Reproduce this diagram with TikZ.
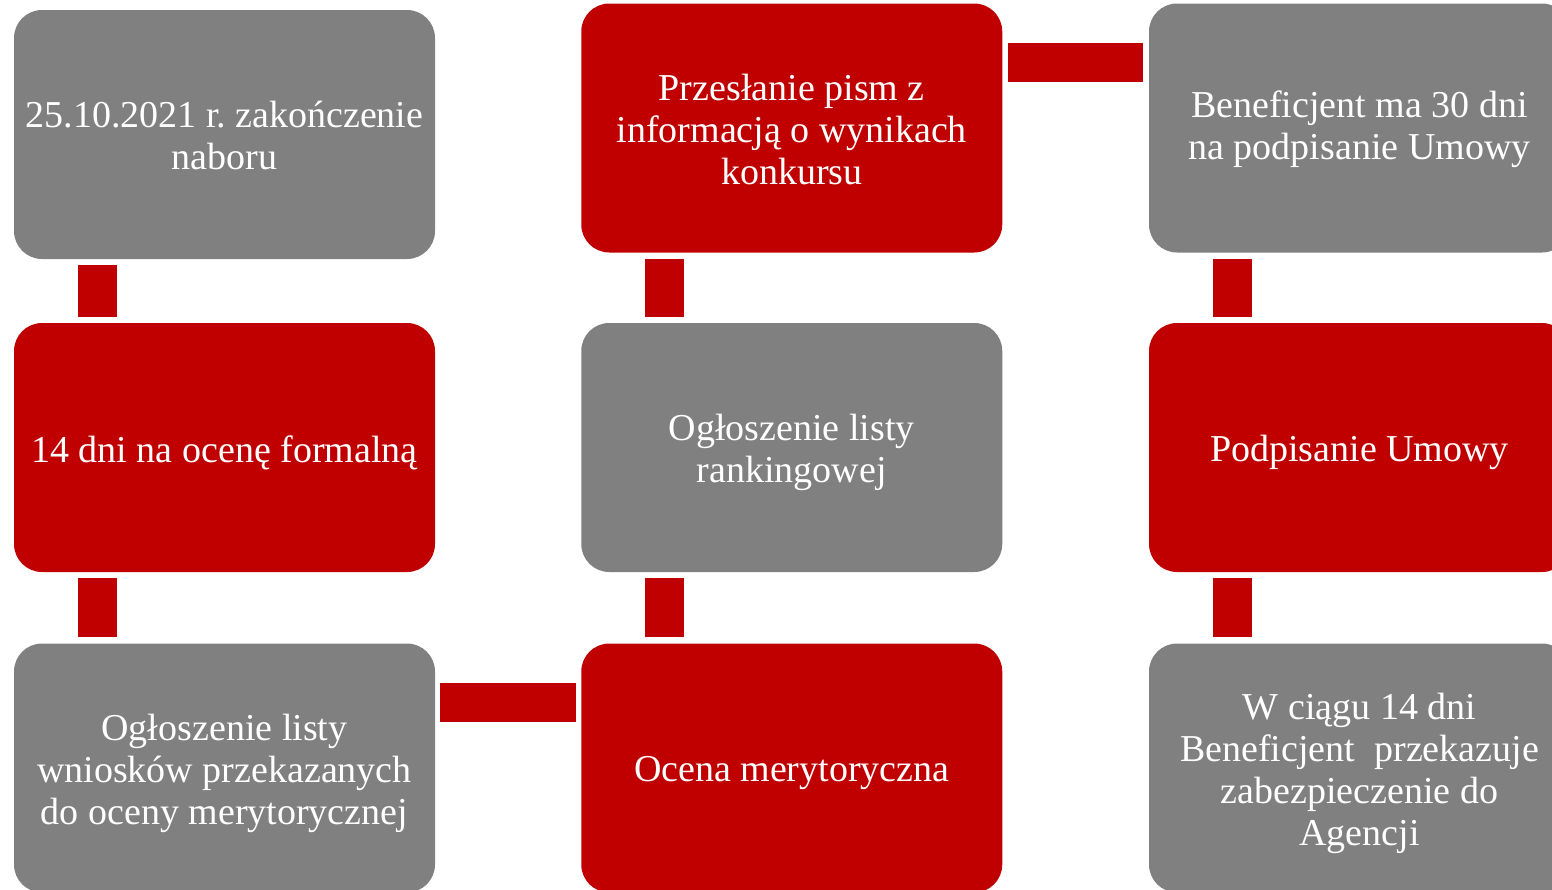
\documentclass[tikz,border=0pt]{standalone}
\usepackage{fontspec}
\setmainfont{Liberation Serif}
\usetikzlibrary{calc}
\definecolor{boxgray}{RGB}{128,128,128}
\definecolor{boxred}{RGB}{192,0,0}
\newcommand{\boxtext}[2][10pt]{\raisebox{0pt}[\dimexpr\height+#1\relax][\depth]{\parbox{421pt}{\centering #2}}}
\begin{document}
\frenchspacing
\begin{tikzpicture}[x=1pt,y=-1pt,
  box/.style={rectangle, rounded corners=28pt, minimum width=421pt, minimum height=249pt,
    text=white, inner sep=0pt,
    font=\fontsize{38}{42}\selectfont},
  gbox/.style={box, fill=boxgray},
  rbox/.style={box, fill=boxred},
  bar/.style={draw=boxred, line width=39pt}]
\useasboundingbox (0,0) rectangle (1552,889);
\clip (0,0) rectangle (1552,889);
% column 1
\node[gbox] (a1) at (224.5,134.5) {\boxtext[2pt]{25.10.2021 r. zakończenie\\naboru}};
\node[rbox] (a2) at (224.5,447.5) {\boxtext{14 dni na ocenę formalną}};
\node[gbox] (a3) at (224.5,768) {\boxtext{Ogłoszenie listy\\wniosków przekazanych\\do oceny merytorycznej}};
% column 2
\node[rbox] (b1) at (791.75,128) {\boxtext[2pt]{Przesłanie pism z\\informacją o wynikach\\konkursu}};
\node[gbox] (b2) at (791.75,447.5) {\boxtext{Ogłoszenie listy\\rankingowej}};
\node[rbox] (b3) at (791.75,768) {\boxtext{Ocena merytoryczna}};
% column 3
\node[gbox] (c1) at (1359.5,128) {\boxtext[2pt]{Beneficjent ma 30 dni\\na podpisanie Umowy}};
\node[rbox] (c2) at (1359.5,447.5) {\boxtext{Podpisanie Umowy}};
\node[gbox] (c3) at (1359.5,768) {\boxtext{W ciągu 14 dni\\Beneficjent~ przekazuje\\zabezpieczenie do\\Agencji}};
% connectors
\draw[bar] ($(a1.south west)+(83.5,6)$) -- ($(a2.north west)+(83.5,-6)$);
\draw[bar] ($(a2.south west)+(83.5,6)$) -- ($(a3.north west)+(83.5,-6)$);
\draw[bar] ($(a3.north east)+(5,59.5)$) -- ($(b3.north west)+(-5,59.5)$);
\draw[bar] ($(b3.north west)+(83.5,-6)$) -- ($(b2.south west)+(83.5,6)$);
\draw[bar] ($(b2.north west)+(83.5,-6)$) -- ($(b1.south west)+(83.5,6)$);
\draw[bar] ($(b1.north east)+(6,59.5)$) -- ($(c1.north west)+(-6,59.5)$);
\draw[bar] ($(c1.south west)+(83.5,6)$) -- ($(c2.north west)+(83.5,-6)$);
\draw[bar] ($(c2.south west)+(83.5,6)$) -- ($(c3.north west)+(83.5,-6)$);
\end{tikzpicture}
\end{document}
